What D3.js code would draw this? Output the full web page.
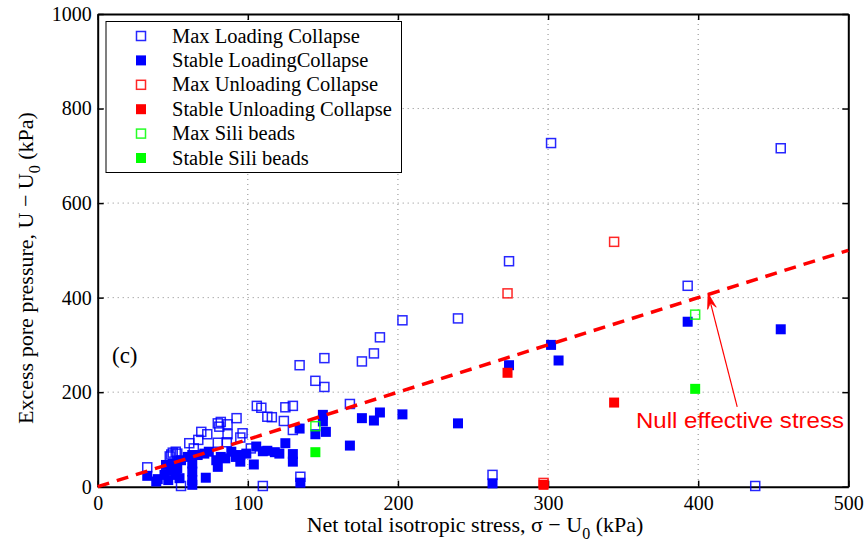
<!DOCTYPE html>
<html><head><meta charset="utf-8">
<script src="https://cdn.jsdelivr.net/npm/d3@7"></script>
<style>body{margin:0;background:#fff}</style>
</head><body>
<script>
const xTicks=[0,100,200,300,400,500];
const yTicks=[0,200,400,600,800,1000];
const maxLoading=[[33,41],[48,64],[49,68],[50,72],[52,74],[53,70],[55.5,1.5],[61,92],[64,81],[67,99],[69,116],[73,111],[80,134],[81,127],[82,137],[86.5,132],[86.5,111],[80,93],[86,94],[92.5,145],[96.5,113],[95,104],[102,81],[106,171],[109,167],[113,148],[116,147],[124,139],[125,168],[130,171],[130,120],[110,1.5],[134.5,257],[145,224],[151,211],[151,272],[168,175],[176,265],[184,282],[188,316],[203,352],[240,356],[263,25],[274,477],[302,727],[393,425],[438,1.5],[455,716],[135,21]];
const stableLoading=[[33,23],[40,16],[39,11],[44.5,25],[47,14],[49,35],[52,25],[54.5,18],[53,39],[50,49],[45.5,46],[55.5,56],[60,63],[63,67],[63,49],[63,32],[63,14],[63,4],[66.6,67],[71,70],[72,19],[74,74],[79,56],[80,42],[82,63],[85,60],[89,74],[92,63],[95,67],[99,70],[95,53],[104,47],[105.6,85],[110,75],[113,76],[118,73],[121,70],[125,92],[130,69],[130,53],[134.5,123],[135,8.5],[145,111],[150,152],[150,138],[152,116],[168,87],[176,145],[184,140],[188,157],[203,153],[240,134],[263,7],[274,257],[302,300],[307,267],[393,349],[455,333]];
const maxUnloading=[[273,409],[344,518],[297,8]];
const stableUnloading=[[273,241],[344,178],[297,4]];
const maxSili=[[145,128],[398,364]];
const stableSili=[[145,73],[398,207]];
const nullLine=[[0,0],[500,500]];
const arrowFrom=[426,169], arrowTo=[406.6,409];

const series=[
 {name:"Max Loading Collapse",data:maxLoading,color:"#0000ff",filled:false},
 {name:"Stable LoadingCollapse",data:stableLoading,color:"#0000ff",filled:true},
 {name:"Max Unloading Collapse",data:maxUnloading,color:"#ff0000",filled:false},
 {name:"Stable Unloading Collapse",data:stableUnloading,color:"#ff0000",filled:true},
 {name:"Max Sili beads",data:maxSili,color:"#00ff00",filled:false},
 {name:"Stable Sili beads",data:stableSili,color:"#00ff00",filled:true}
];

const W=864,H=545, L=97.7,R=848.3,T=14,B=486.7;
const svg=d3.select("body").append("svg").attr("width",W).attr("height",H)
  .style("font-family","'Liberation Serif','Times New Roman',serif");
const x=d3.scaleLinear().domain([0,500]).range([L,R]);
const y=d3.scaleLinear().domain([0,1000]).range([B,T]);

// grid
const g=svg.append("g");
g.selectAll(".gx").data(xTicks.slice(1,-1)).enter().append("line")
 .attr("x1",d=>x(d)).attr("x2",d=>x(d)).attr("y1",T).attr("y2",B)
 .attr("stroke","#888").attr("stroke-width",1).attr("stroke-dasharray","1,4");
g.selectAll(".gy").data(yTicks.slice(1,-1)).enter().append("line")
 .attr("y1",d=>y(d)).attr("y2",d=>y(d)).attr("x1",L).attr("x2",R)
 .attr("stroke","#888").attr("stroke-width",1).attr("stroke-dasharray","1,4");

// axes
const fs=20, fmt=d3.format("d");
const ax=svg.append("g").attr("transform",`translate(0,${B})`)
 .call(d3.axisBottom(x).tickValues(xTicks).tickFormat(fmt).tickSizeInner(-6).tickSizeOuter(0).tickPadding(9));
const ay=svg.append("g").attr("transform",`translate(${L},0)`)
 .call(d3.axisLeft(y).tickValues(yTicks).tickFormat(fmt).tickSizeInner(-6).tickSizeOuter(0).tickPadding(6));
const at=svg.append("g").attr("transform",`translate(0,${T})`)
 .call(d3.axisTop(x).tickValues(xTicks).tickSizeInner(-6).tickSizeOuter(0).tickFormat(""));
const ar=svg.append("g").attr("transform",`translate(${R},0)`)
 .call(d3.axisRight(y).tickValues(yTicks).tickSizeInner(-6).tickSizeOuter(0).tickFormat(""));
[ax,ay,at,ar].forEach(a=>{
  a.selectAll("path").attr("stroke","#000").attr("stroke-width",2);
  a.selectAll("line").attr("stroke","#000").attr("stroke-width",1.5);
  a.selectAll("text").attr("fill","#000").style("font-size",fs+"px").style("font-family","'Liberation Serif',serif");
});

// markers
const sz=10;
series.forEach(s=>{
  svg.append("g").selectAll("rect").data(s.data).enter().append("rect")
   .attr("x",d=>x(d[0])-sz/2+(s.filled?0:0.5)).attr("y",d=>y(d[1])-sz/2+(s.filled?0:0.5))
   .attr("width",s.filled?sz:sz-1).attr("height",s.filled?sz:sz-1)
   .attr("fill",s.filled?s.color:"none")
   .attr("stroke",s.color).attr("stroke-width",s.filled?0:1.5).attr("stroke-opacity",0.85);
});

// null effective stress line
svg.append("line").attr("x1",x(nullLine[0][0])).attr("y1",y(nullLine[0][1]))
 .attr("x2",x(nullLine[1][0])).attr("y2",y(nullLine[1][1]))
 .attr("stroke","#ff0000").attr("stroke-width",3.5).attr("stroke-dasharray","12,8");

// annotation arrow
const ax0=x(arrowFrom[0]),ay0=y(arrowFrom[1]),ax1=x(arrowTo[0]),ay1=y(arrowTo[1]);
svg.append("line").attr("x1",ax0).attr("y1",ay0).attr("x2",ax1).attr("y2",ay1)
 .attr("stroke","#ff0000").attr("stroke-width",1.2);
const ang=Math.atan2(ay1-ay0,ax1-ax0), hl=16, hw=0.28;
const p1=[ax1-hl*Math.cos(ang-hw),ay1-hl*Math.sin(ang-hw)];
const p2=[ax1-hl*Math.cos(ang+hw),ay1-hl*Math.sin(ang+hw)];
const pm=[ax1-hl*0.6*Math.cos(ang),ay1-hl*0.6*Math.sin(ang)];
svg.append("path").attr("d",`M${ax1},${ay1}L${p1[0]},${p1[1]}L${pm[0]},${pm[1]}L${p2[0]},${p2[1]}Z`)
 .attr("fill","#ff0000").attr("stroke","#ff0000").attr("stroke-width",0.8);
svg.append("text").attr("x",636).attr("y",428).text("Null effective stress")
 .attr("fill","#ff0000").style("font-family","'Liberation Sans',Arial,sans-serif")
 .style("font-size","22px").attr("textLength",208).attr("lengthAdjust","spacingAndGlyphs");

// (c)
svg.append("text").attr("x",112).attr("y",363).text("(c)").style("font-size","23px");

// legend
const lg=svg.append("g");
lg.append("rect").attr("x",106).attr("y",21.5).attr("width",295.5).attr("height",151)
 .attr("fill","#fff").attr("stroke","#000").attr("stroke-width",1);
series.forEach((s,i)=>{
  const cy=36+i*24.4;
  lg.append("rect").attr("x",141-sz/2+(s.filled?0:0.5)).attr("y",cy-sz/2+(s.filled?0:0.5))
   .attr("width",s.filled?sz:sz-1).attr("height",s.filled?sz:sz-1)
   .attr("fill",s.filled?s.color:"none").attr("stroke",s.color).attr("stroke-width",s.filled?0:1.5).attr("stroke-opacity",0.85);
  lg.append("text").attr("x",172).attr("y",cy+6.5).text(s.name).style("font-size","20.5px");
});

// axis titles
const xt=svg.append("text").attr("x",475).attr("y",532).attr("text-anchor","middle").style("font-size","22px");
xt.append("tspan").text("Net total isotropic stress, σ − U");
xt.append("tspan").text("0").attr("dy",7).style("font-size","16px");
xt.append("tspan").text(" (kPa)").attr("dy",-7);
const yt=svg.append("text").attr("transform","translate(33,268) rotate(-90)").attr("text-anchor","middle").style("font-size","22px");
yt.append("tspan").text("Excess pore pressure, U − U");
yt.append("tspan").text("0").attr("dy",7).style("font-size","16px");
yt.append("tspan").text(" (kPa)").attr("dy",-7);
</script>
</body></html>
